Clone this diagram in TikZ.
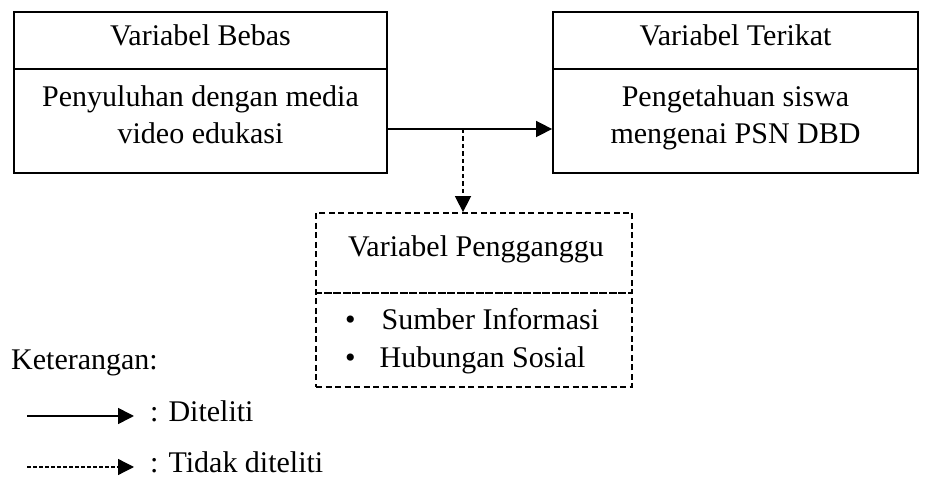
\documentclass[tikz,border=0pt]{standalone}
\usepackage{fontspec}
\setmainfont{Liberation Serif}
\usetikzlibrary{arrows.meta}

\tikzset{
  box/.style={draw, line width=1.8pt, inner sep=0pt},
  dbox/.style={box, dash pattern=on 6pt off 3.5pt},
  txt/.style={inner sep=0pt, anchor=base},
  tip/.style={-{Triangle[length=16pt,width=16pt]}, line width=1.6pt},
}

\begin{document}
\begin{tikzpicture}[x=1pt,y=1pt,font=\fontsize{30}{37}\selectfont]
\useasboundingbox (0,0) rectangle (932,479);

% variabel bebas
\node[box, minimum width=373pt, minimum height=57pt] (bebasHead) at (200.5,438.5) {};
\node[box, minimum width=373pt, minimum height=104pt] (bebasBody) at (200.5,358) {};
\node[txt] (bebasTitle) at (200.5,433) {Variabel Bebas};
\node[txt] (bebasLineA) at (200.5,372) {Penyuluhan dengan media};
\node[txt] (bebasLineB) at (200.5,335) {video edukasi};

% variabel terikat
\node[box, minimum width=365pt, minimum height=57pt] (terikatHead) at (735.5,438.5) {};
\node[box, minimum width=365pt, minimum height=104pt] (terikatBody) at (735.5,358) {};
\node[txt] (terikatTitle) at (735.5,433) {Variabel Terikat};
\node[txt] (terikatLineA) at (735.5,372) {Pengetahuan siswa};
\node[txt] (terikatLineB) at (735.5,335) {mengenai PSN DBD};

% variabel pengganggu
\node[dbox, minimum width=316pt, minimum height=80pt] (ganguHead) at (474,226) {};
\node[dbox, minimum width=316pt, minimum height=94pt] (ganguBody) at (474,139) {};
\node[txt] (ganguTitle) at (476,222) {Variabel Pengganggu};
\node[txt, anchor=base west] (ganguItemA) at (345,149) {\textbullet\hspace{26pt}Sumber Informasi};
\node[txt, anchor=base west] (ganguItemB) at (345,111) {\textbullet\hspace{24pt}Hubungan Sosial};

% panah
\coordinate (split) at (463,350);
\draw[tip] (bebasBody.east |- split) -- (terikatBody.west |- split);
\draw[tip, dash pattern=on 4.5pt off 3pt] (split) -- (split |- ganguHead.north);

% keterangan
\node[txt, anchor=base west] (ket) at (11,109) {Keterangan:};
\coordinate (solidA) at (27,63);
\coordinate (solidB) at (134,63);
\draw[tip] (solidA) -- (solidB);
\node[txt, anchor=base west] (ketSolid) at (150,57) {: Diteliti};
\coordinate (dashA) at (27,12);
\coordinate (dashB) at (134,12);
\draw[tip, line width=1.3pt, dash pattern=on 4pt off 2pt] (dashA) -- (dashB);
\node[txt, anchor=base west] (ketDash) at (150,6) {: Tidak diteliti};
\end{tikzpicture}
\end{document}
